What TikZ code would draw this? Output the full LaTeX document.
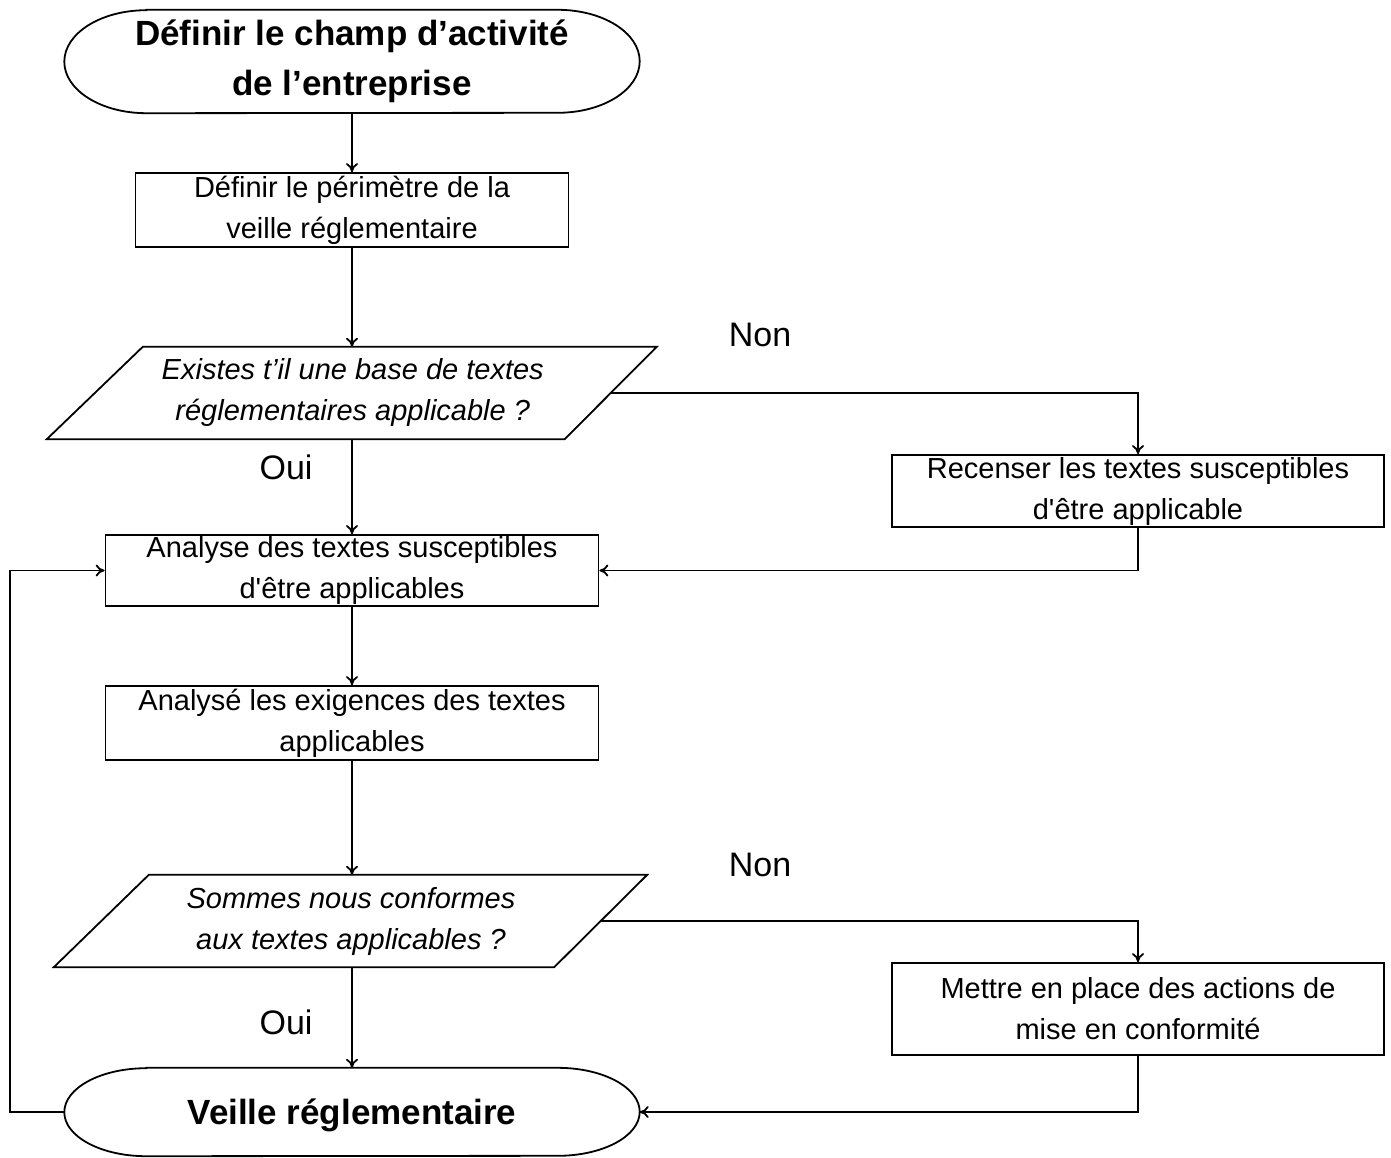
\documentclass[tikz,border=0pt]{standalone}
\usepackage{fontspec}
\setmainfont{Liberation Sans}
\usetikzlibrary{arrows.meta,calc}

\begin{document}
\begin{tikzpicture}[x=1pt,y=-1pt,
  line/.style={line width=1.8pt,draw=black},
  flow/.style={line, -{To[length=9pt,width=12pt]}},
  body/.style={inner sep=0pt, align=center, font=\fontsize{29}{41}\selectfont},
  stepbox/.style={body, draw, line width=1.8pt},
  question/.style={body, font=\fontsize{29}{41}\selectfont\itshape},
  terminal/.style={inner sep=0pt, align=center, font=\fontsize{35}{50}\selectfont\bfseries},
  answer/.style={inner sep=0pt, font=\fontsize{34}{40}\selectfont}
]
\useasboundingbox (0,0) rectangle (1391,1158);

% start / end terminals (shape drawn after)
\node[terminal, minimum width=575pt, minimum height=103pt] (start) at (352,61.5)
  {Définir le champ d’activité\\de l’entreprise};
\node[terminal, minimum width=575pt, minimum height=88pt, text depth=0pt] (veille) at (352,1112)
  {Veille réglementaire};

% process steps
\node[stepbox, minimum width=433pt, minimum height=74pt] (perim) at (352,210)
  {Définir le périmètre de la\\veille réglementaire};
\node[stepbox, minimum width=492pt, minimum height=72pt] (recenser) at (1138,491)
  {Recenser les textes susceptibles\\d\textquotesingle être applicable};
\node[stepbox, minimum width=493pt, minimum height=71pt] (analyse) at (352,570.5)
  {Analyse des textes susceptibles\\d\textquotesingle être applicables};
\node[stepbox, minimum width=493pt, minimum height=74pt] (exig) at (352,723)
  {Analysé les exigences des textes\\applicables};
\node[stepbox, minimum width=492pt, minimum height=92pt] (mettre) at (1138,1009)
  {Mettre en place des actions de\\mise en conformité};

% decisions (parallelograms drawn after)
\node[question, minimum width=515.5pt, minimum height=92pt] (q1) at (352.75,393)
  {Existes t’il une base de textes\\réglementaires applicable ?};
\node[question, minimum width=499pt, minimum height=92pt] (q2) at (351,921)
  {Sommes nous conformes\\aux textes applicables ?};

% terminal outlines: flat top and bottom, elliptical ends
\foreach \n/\ry in {start/51.5, veille/44} {
  \draw[line] ([xshift=82pt]\n.north west) -- ([xshift=-82pt]\n.north east)
    arc[start angle=90, end angle=-90, x radius=82pt, y radius=\ry pt]
    -- ([xshift=82pt]\n.south west)
    arc[start angle=270, end angle=90, x radius=82pt, y radius=\ry pt] -- cycle;
}

% decision outlines
\draw[line] ([xshift=48pt]q1.north west) -- ([xshift=46pt]q1.north east)
  -- ([xshift=-46pt]q1.south east) -- ([xshift=-48pt]q1.south west) -- cycle;
\draw[line] ([xshift=47.5pt]q2.north west) -- ([xshift=46.5pt]q2.north east)
  -- ([xshift=-46.5pt]q2.south east) -- ([xshift=-47.5pt]q2.south west) -- cycle;

% answer labels
\node[answer] (non1) at (760,335) {Non};
\node[answer] (oui1) at (286,467) {Oui};
\node[answer] (non2) at (760,865) {Non};
\node[answer] (oui2) at (286,1022) {Oui};

% connectors
\coordinate (loopx) at (10,0);
\draw[flow] (start.south) -- (perim.north);
\draw[flow] (perim.south) -- (perim.south |- q1.north);
\draw[flow] (q1.east) -- (recenser.north |- q1.east) -- (recenser.north);
\draw[flow] (analyse.north |- q1.south) -- (analyse.north);
\draw[flow] (recenser.south) -- (recenser.south |- analyse.east) -- (analyse.east);
\draw[flow] (analyse.south) -- (exig.north);
\draw[flow] (exig.south) -- (exig.south |- q2.north);
\draw[flow] (q2.east) -- (mettre.north |- q2.east) -- (mettre.north);
\draw[flow] (veille.north |- q2.south) -- (veille.north);
\draw[flow] (mettre.south) -- (mettre.south |- veille.east) -- (veille.east);
\draw[flow] (veille.west) -- (veille.west -| loopx) -- (loopx |- analyse.west) -- (analyse.west);
\end{tikzpicture}
\end{document}
